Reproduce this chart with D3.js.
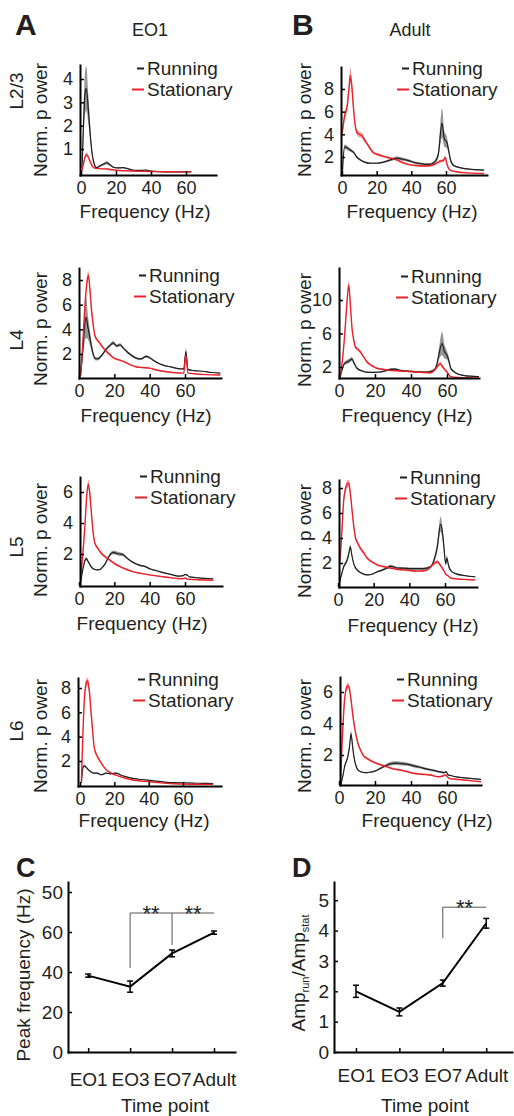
<!DOCTYPE html>
<html>
<head>
<meta charset="utf-8">
<script src="https://cdn.jsdelivr.net/npm/d3@7"></script>
<style>
  body { margin: 0; background: #fff; }
  svg text { font-family: "Liberation Sans", Arial, sans-serif; fill: #231f20; }
</style>
</head>
<body>
<div id="chart"></div>
<script>
// spectra: [frequency (Hz), mean norm. power, sem]
const eo1L23Run = [[0.6,0.2,0.05],[1.4,2.0,0.6],[2.2,3.3,0.9],[3,3.6,0.95],[4.2,2.7,0.6],[5.1,1.8,0.35],[6.1,0.96,0.15],[7.4,0.4,0.06],[8.9,0.2,0.04],[10.8,0.27,0.04],[12.8,0.35,0.05],[14.7,0.41,0.07],[16.5,0.33,0.05],[18.5,0.22,0.03],[21,0.19,0.03],[24,0.2,0.03],[27,0.15,0.02],[30,0.09,0.02],[34,0.08,0.02],[37,0.1,0.02],[40,0.05,0.01],[45,0.03,0.01],[50,0.02,0.01],[55,0.02,0.01],[60,0.02,0.01],[63,0.02,0.01]]
const eo1L23Stat = [[0.5,0.05,0.02],[1.5,0.4,0.06],[2.5,0.7,0.08],[3.2,0.76,0.1],[4,0.68,0.08],[5,0.5,0.06],[6,0.33,0.04],[7,0.22,0.03],[8.5,0.17,0.02],[10,0.16,0.02],[12,0.15,0.02],[15,0.14,0.02],[18,0.11,0.02],[22,0.08,0.01],[28,0.06,0.01],[35,0.04,0.01],[45,0.03,0.01],[55,0.02,0.01],[63,0.02,0.01]]

const adultL23Run = [[0.3,0.8,0.1],[1.5,2.9,0.2],[3,2.8,0.2],[5,2.6,0.15],[6.7,2.4,0.12],[8.5,2.0,0.1],[10.5,1.75,0.08],[13,1.55,0.07],[16.3,1.45,0.07],[20,1.45,0.07],[24,1.55,0.08],[28,1.75,0.1],[31.7,1.9,0.15],[35,1.8,0.15],[38,1.7,0.12],[42,1.5,0.1],[46,1.4,0.1],[50,1.35,0.1],[53,1.5,0.12],[55.5,2.2,0.3],[57.7,5.0,1.3],[59,3.6,0.7],[60.5,3.3,0.5],[61.5,2.6,0.3],[62.5,1.8,0.2],[64,1.3,0.12],[66,1.15,0.08],[70,1.0,0.05],[75,0.9,0.05],[82,0.85,0.05]]
const adultL23Stat = [[0,4.0,0.3],[1.5,5.6,0.4],[3,6.5,0.4],[4,8.0,0.6],[4.8,9.2,0.7],[5.7,8.2,0.6],[6.7,6.2,0.4],[7.6,4.8,0.3],[8.6,4.2,0.25],[10,4.0,0.25],[11.5,3.9,0.25],[13,3.5,0.2],[14.4,3.2,0.15],[16,2.8,0.15],[18,2.4,0.12],[21,2.2,0.1],[24,2.05,0.1],[28,1.9,0.1],[31.7,1.75,0.1],[35,1.5,0.1],[38,1.35,0.08],[43,1.25,0.08],[48,1.2,0.08],[51,1.25,0.08],[54,1.4,0.1],[56,1.6,0.12],[58.5,1.7,0.15],[59.6,1.95,0.15],[60.5,1.4,0.1],[61.5,1.0,0.06],[63,0.8,0.05],[66,0.7,0.04],[72,0.6,0.03],[82,0.55,0.03]]

const eo1L4Run = [[0.8,0.2,0.05],[2,2.0,0.5],[3,4.0,1.2],[4,5.0,1.7],[5,4.2,1.0],[6.2,3.3,0.6],[7.5,2.3,0.3],[9,1.65,0.15],[10.5,1.6,0.12],[12,1.75,0.12],[13.7,2.05,0.12],[15.5,2.4,0.12],[17.5,2.7,0.12],[19.4,2.9,0.15],[21.3,2.65,0.12],[23.2,2.75,0.12],[25,2.5,0.1],[27,2.2,0.1],[30,1.85,0.1],[32.6,1.65,0.08],[35,1.6,0.08],[38,1.8,0.1],[40,1.7,0.08],[42,1.5,0.07],[45,1.25,0.06],[47.6,1.1,0.05],[52,0.95,0.04],[57,0.8,0.04],[59.3,0.8,0.04],[60.5,2.2,0.3],[61.7,0.75,0.04],[65,0.65,0.03],[70,0.6,0.03],[75,0.5,0.03],[80,0.45,0.03]]
const eo1L4Stat = [[0.8,0.2,0.05],[2,2.5,0.2],[3.4,6.0,0.3],[4.5,7.8,0.35],[5.3,8.4,0.35],[6.2,7.2,0.3],[7.2,5.4,0.25],[8.2,4.2,0.2],[9,3.5,0.15],[10.5,3.1,0.12],[11.9,2.85,0.12],[13.7,2.5,0.12],[15.6,2.2,0.12],[17.5,1.95,0.1],[19.4,1.7,0.1],[22,1.55,0.08],[25,1.4,0.07],[28,1.2,0.06],[32.6,0.95,0.05],[36,0.9,0.05],[40,0.85,0.05],[44,0.7,0.04],[47.6,0.6,0.03],[52,0.52,0.03],[58,0.45,0.03],[59.3,0.45,0.03],[60.5,1.9,0.2],[61.7,0.45,0.03],[65,0.4,0.02],[72,0.33,0.02],[80,0.3,0.02]]

const adultL4Run = [[0.5,0.8,0.1],[1.5,1.5,0.15],[3,2.4,0.2],[5.4,2.7,0.25],[7.2,2.95,0.25],[8.5,2.4,0.2],[10,1.85,0.12],[12.5,1.55,0.1],[15.6,1.37,0.08],[19,1.35,0.08],[23,1.4,0.08],[26,1.55,0.1],[28.5,1.72,0.12],[31,1.75,0.12],[34,1.6,0.1],[38,1.5,0.1],[41.6,1.45,0.1],[45,1.4,0.1],[49,1.4,0.1],[52.6,1.6,0.15],[54.5,2.4,0.3],[55.4,3.4,0.6],[57.2,4.8,1.4],[58.7,3.8,0.8],[60,3.4,0.5],[61,2.8,0.4],[62,1.9,0.2],[63.5,1.5,0.12],[65.6,1.2,0.1],[69,1.0,0.06],[73,0.9,0.05],[78,0.85,0.05]]
const adultL4Stat = [[0.7,0.8,0.1],[2,3.0,0.3],[3,5.4,0.4],[4.2,9.0,0.5],[5.4,11.8,0.5],[6.3,9.5,0.4],[7.2,6.7,0.3],[8.2,5.2,0.25],[9.1,4.4,0.2],[10.5,4.1,0.2],[11.9,3.8,0.2],[13.7,3.2,0.15],[15.6,2.6,0.15],[18,2.2,0.12],[21,1.85,0.1],[25,1.7,0.1],[28.5,1.6,0.1],[32,1.55,0.1],[36,1.5,0.1],[40,1.45,0.1],[43.3,1.4,0.1],[47,1.35,0.1],[50.7,1.3,0.1],[53,1.6,0.15],[54.4,2.0,0.2],[56.3,2.4,0.25],[58,1.9,0.2],[60,1.4,0.12],[61,1.1,0.08],[62,0.85,0.05],[66,0.75,0.04],[72,0.7,0.03],[78,0.65,0.03]]

const eo1L5Run = [[0.8,0.1,0.05],[2,0.9,0.1],[3.4,1.6,0.1],[4.2,1.7,0.1],[5,1.55,0.08],[6.2,1.3,0.06],[7.5,1.1,0.05],[9,1.0,0.05],[10.5,0.98,0.05],[11.9,1.0,0.05],[13.3,1.15,0.06],[14.7,1.35,0.07],[16,1.65,0.08],[17.5,1.95,0.1],[19.4,2.1,0.12],[21,2.05,0.12],[23,2.0,0.12],[25,1.95,0.1],[27,1.75,0.08],[30,1.5,0.07],[32.5,1.35,0.06],[35,1.25,0.06],[37.3,1.2,0.05],[40,1.05,0.05],[43,0.95,0.04],[46,0.85,0.04],[49.5,0.75,0.03],[53,0.65,0.03],[57,0.57,0.03],[59,0.6,0.03],[60,0.68,0.04],[61,0.65,0.04],[62.7,0.52,0.03],[66,0.48,0.02],[71,0.43,0.02],[76,0.4,0.02]]
const eo1L5Stat = [[0.8,0.3,0.05],[2,1.8,0.15],[3.4,3.9,0.2],[4.4,5.8,0.25],[5.3,6.5,0.3],[6.2,5.8,0.25],[7.2,4.4,0.2],[8,3.4,0.15],[9,2.7,0.12],[10.5,2.4,0.1],[11.9,2.15,0.1],[14.5,1.85,0.08],[17.5,1.6,0.08],[20,1.4,0.07],[23,1.2,0.06],[27,1.0,0.05],[30.5,0.86,0.04],[35,0.75,0.04],[40,0.65,0.03],[45,0.57,0.03],[50,0.5,0.03],[55,0.43,0.02],[58.5,0.4,0.02],[60,0.45,0.03],[61.5,0.38,0.02],[66,0.35,0.02],[71,0.32,0.02],[76,0.3,0.02]]

const adultL5Run = [[0.8,0.4,0.05],[2,1.1,0.1],[3.2,1.7,0.12],[5,2.2,0.15],[6,2.7,0.2],[6.9,3.3,0.2],[7.8,2.6,0.15],[8.8,1.95,0.1],[10.7,1.45,0.07],[13,1.2,0.06],[16.3,1.05,0.05],[19,1.1,0.05],[22,1.3,0.06],[25,1.45,0.08],[28,1.65,0.1],[29.4,1.75,0.12],[31,1.7,0.1],[33,1.6,0.1],[37,1.58,0.1],[40.6,1.55,0.1],[44,1.55,0.1],[48,1.55,0.1],[51.9,1.7,0.1],[54,2.3,0.2],[55.7,3.3,0.4],[57.5,5.1,0.6],[58.4,4.6,0.5],[59.2,3.6,0.4],[60.4,1.95,0.2],[61,2.4,0.25],[62,1.8,0.15],[63.2,1.4,0.1],[66,1.15,0.06],[70.7,1.0,0.05],[77,0.9,0.05]]
const adultL5Stat = [[0.5,1.8,0.15],[1.3,2.6,0.2],[2.2,4.6,0.3],[3.2,7.0,0.3],[4.3,8.0,0.3],[5.2,8.3,0.3],[6,8.4,0.3],[6.9,7.6,0.3],[7.9,6.2,0.25],[8.8,5.0,0.2],[9.7,4.1,0.2],[11,3.6,0.15],[12.5,3.2,0.15],[14.5,2.8,0.12],[16.3,2.4,0.1],[19,2.1,0.1],[22,1.85,0.08],[26,1.7,0.08],[29.4,1.6,0.08],[33,1.5,0.07],[36.9,1.45,0.07],[40.6,1.4,0.07],[44.4,1.35,0.07],[48,1.38,0.07],[50,1.45,0.08],[52,1.7,0.1],[53.8,1.95,0.12],[55.7,2.1,0.15],[57,1.9,0.12],[58,1.7,0.1],[59.3,1.4,0.08],[60.4,1.1,0.06],[61.5,1.0,0.05],[63.2,0.8,0.04],[67,0.72,0.03],[72,0.68,0.03],[77,0.65,0.03]]

const eo1L6Run = [[0.8,0.2,0.05],[1.8,1.5,0.1],[2.6,1.6,0.1],[3.8,1.45,0.08],[5.1,1.25,0.07],[6.5,1.1,0.06],[8.3,1.0,0.05],[10.2,1.0,0.05],[12.1,0.87,0.04],[13.5,0.9,0.04],[15,1.0,0.05],[17.9,0.95,0.05],[20.8,1.0,0.05],[22.5,0.95,0.05],[23.7,0.85,0.04],[27,0.7,0.03],[31.5,0.55,0.03],[36,0.48,0.02],[41,0.4,0.02],[46,0.32,0.02],[50.9,0.25,0.02],[55,0.22,0.01],[60.5,0.2,0.01],[66,0.18,0.01],[72,0.16,0.01],[77.6,0.15,0.01]]
const eo1L6Stat = [[0.8,0.3,0.05],[1.5,3.4,0.2],[2.5,7.0,0.3],[3.5,8.3,0.35],[4.4,8.6,0.35],[5.4,7.8,0.3],[6.4,6.1,0.25],[7.4,4.4,0.2],[8.3,3.1,0.15],[10,2.4,0.1],[12.1,1.9,0.08],[14,1.5,0.07],[16,1.2,0.06],[19,0.95,0.05],[21.8,0.8,0.04],[26,0.6,0.03],[31.5,0.42,0.02],[36,0.35,0.02],[41,0.3,0.02],[46,0.22,0.02],[50.9,0.16,0.01],[55,0.13,0.01],[60.5,0.1,0.01],[66,0.09,0.01],[72,0.08,0.01],[77.6,0.08,0.01]]

const adultL6Run = [[1,0.1,0.05],[2.2,0.7,0.08],[3.1,1.26,0.1],[4.9,1.9,0.12],[5.8,2.5,0.15],[6.7,3.35,0.2],[7.6,2.5,0.15],[8.6,1.7,0.1],[9.5,1.3,0.07],[10.5,1.05,0.05],[12.5,0.92,0.04],[15.2,0.88,0.04],[18,0.92,0.05],[20.8,1.02,0.05],[23.5,1.18,0.07],[26.4,1.35,0.1],[29,1.45,0.12],[32,1.48,0.12],[35,1.45,0.12],[37.6,1.42,0.1],[41,1.33,0.1],[45,1.22,0.08],[49,1.1,0.07],[52.6,1.02,0.06],[56,0.93,0.05],[58.5,0.88,0.05],[59.5,0.95,0.05],[60.5,0.75,0.04],[62,0.7,0.03],[65.8,0.6,0.03],[70,0.55,0.03],[74,0.5,0.02],[79,0.45,0.02]]
const adultL6Stat = [[0.8,0.3,0.05],[1.7,2.7,0.15],[3.1,5.5,0.2],[4,6.2,0.2],[4.9,6.4,0.2],[5.8,6.2,0.2],[6.7,5.5,0.2],[7.6,4.6,0.18],[8.6,3.8,0.15],[10.5,2.75,0.12],[12,2.3,0.1],[13.3,2.0,0.1],[16,1.75,0.08],[18.9,1.57,0.07],[22.5,1.4,0.07],[26.4,1.26,0.06],[30,1.12,0.05],[33.9,1.05,0.05],[37.6,0.95,0.05],[41.4,0.84,0.04],[46,0.78,0.04],[50.7,0.73,0.04],[55.4,0.62,0.03],[58,0.68,0.04],[59.2,0.73,0.04],[61.1,0.52,0.03],[65,0.46,0.02],[69.5,0.41,0.02],[74,0.36,0.02],[79.2,0.3,0.02]]

// tick values
const freqTicks = [0, 20, 40, 60]
const ticksEo1L23 = [1, 2, 3, 4]
const ticksAdultL23 = [2, 4, 6, 8]
const ticksEo1L4 = [2, 4, 6, 8]
const ticksAdultL4 = [2, 6, 10]
const ticksEo1L5 = [2, 4, 6]
const ticksAdultL5 = [2, 4, 6, 8]
const ticksEo1L6 = [2, 4, 6, 8]
const ticksAdultL6 = [2, 4, 6]

// summary panels C and D
const timePoints = ["EO1", "EO3", "EO7", "Adult"]
const peakFreq = [38.2, 32.7, 49.3, 59.7]
const peakFreqErr = [0.8, 2.8, 1.7, 0.8]
const peakTicks = [0, 20, 40, 60, 80]
const peakTickLabels = ["0", "20", "40", "60", "50"]
const ampRatio = [2.0, 1.32, 2.27, 4.24]
const ampRatioErr = [0.2, 0.13, 0.1, 0.16]
const ratioTicks = [0, 1, 2, 3, 4, 5]

const RED = "#ea2129", RED_BAND = "#f08a8a", BLACK = "#1e1e1e", GREY_BAND = "#7d7d7d"

var svg = d3.select("#chart").append("svg")
    .attr("width", 514)
    .attr("height", 1116)

svg.append("rect").attr("width", 514).attr("height", 1116).attr("fill", "#fff")

// panel frames (pixel layout), one per spectrum
var panels = [
    {id: "a1", run: eo1L23Run, stat: eo1L23Stat, ticks: ticksEo1L23, axisX: 80, axisEnd: 216, top: 65, axisY: 175, x0: 81, x60: 186, yRef: [1, 4], yPx: [149, 79], legX: 147, legY: 75, labX: 47, labY: 120, freqX: 145, freqY: 218},
    {id: "b1", run: adultL23Run, stat: adultL23Stat, ticks: ticksAdultL23, axisX: 341, axisEnd: 487, top: 67, axisY: 175, x0: 342, x60: 446, yRef: [2, 8], yPx: [157, 89], legX: 412, legY: 75, labX: 311, labY: 120, freqX: 412, freqY: 218},
    {id: "a2", run: eo1L4Run, stat: eo1L4Stat, ticks: ticksEo1L4, axisX: 79, axisEnd: 221, top: 268, axisY: 378, x0: 79, x60: 185, yRef: [2, 8], yPx: [354, 280], legX: 149, legY: 282, labX: 47, labY: 329, freqX: 146, freqY: 422},
    {id: "b2", run: adultL4Run, stat: adultL4Stat, ticks: ticksAdultL4, axisX: 339, axisEnd: 479, top: 268, axisY: 378, x0: 339, x60: 447, yRef: [2, 10], yPx: [367, 300], legX: 411, legY: 283, labX: 311, labY: 330, freqX: 407, freqY: 422},
    {id: "a3", run: eo1L5Run, stat: eo1L5Stat, ticks: ticksEo1L5, axisX: 80, axisEnd: 222, top: 477, axisY: 586, x0: 79, x60: 185, yRef: [2, 6], yPx: [554, 492], legX: 150, legY: 483, labX: 47, labY: 540, freqX: 142, freqY: 630},
    {id: "b3", run: adultL5Run, stat: adultL5Stat, ticks: ticksAdultL5, axisX: 339, axisEnd: 477, top: 480, axisY: 587, x0: 338, x60: 445, yRef: [2, 8], yPx: [563, 488], legX: 410, legY: 484, labX: 311, labY: 541, freqX: 413, freqY: 632},
    {id: "a4", run: eo1L6Run, stat: eo1L6Stat, ticks: ticksEo1L6, axisX: 78, axisEnd: 221, top: 678, axisY: 786, x0: 80, x60: 183, yRef: [2, 8], yPx: [761, 688], legX: 148, legY: 686, labX: 47, labY: 736, freqX: 144, freqY: 827},
    {id: "b4", run: adultL6Run, stat: adultL6Stat, ticks: ticksAdultL6, axisX: 340, axisEnd: 481, top: 677, axisY: 785, x0: 339, x60: 447, yRef: [2, 6], yPx: [755, 692], legX: 407, legY: 686, labX: 311, labY: 736, freqX: 427, freqY: 827}
]

function styleAxis(g, size) {
    g.attr("font-size", null).attr("font-family", null)
    g.select(".domain").attr("stroke", "#000").attr("stroke-width", 2).attr("stroke-linecap", "square")
    g.selectAll(".tick line").attr("stroke", "#000").attr("stroke-width", 1.5)
    g.selectAll(".tick text").attr("font-size", size).attr("fill", "#231f20")
}

panels.forEach(p => spectrum(p))

function spectrum(p) {
    var xScale = d3.scaleLinear().domain([0, 60]).range([p.x0, p.x60])
    xScale.domain([xScale.invert(p.axisX), xScale.invert(p.axisEnd)]).range([p.axisX, p.axisEnd])

    var yScale = d3.scaleLinear().domain(p.yRef).range(p.yPx)
    yScale.domain([yScale.invert(p.axisY), yScale.invert(p.top)]).range([p.axisY, p.top])

    svg.append("clipPath").attr("id", "clip-" + p.id)
        .append("rect")
        .attr("x", p.axisX).attr("y", p.top)
        .attr("width", p.axisEnd - p.axisX).attr("height", p.axisY - p.top)

    const band = d3.area()
        .x(d => xScale(d[0]))
        .y0(d => yScale(d[1] - d[2]))
        .y1(d => yScale(d[1] + d[2]))
        .curve(d3.curveMonotoneX)

    const line = d3.line()
        .x(d => xScale(d[0]))
        .y(d => yScale(d[1]))
        .curve(d3.curveMonotoneX)

    var plot = svg.append("g").attr("clip-path", "url(#clip-" + p.id + ")")

    plot.append("path").attr("d", band(p.stat)).attr("fill", RED_BAND).attr("opacity", 0.8)
    plot.append("path").attr("d", band(p.run)).attr("fill", GREY_BAND).attr("opacity", 0.8)
    plot.append("path").attr("d", line(p.run)).attr("fill", "none").attr("stroke", BLACK).attr("stroke-width", 1.2)
    plot.append("path").attr("d", line(p.stat)).attr("fill", "none").attr("stroke", RED).attr("stroke-width", 1.4)

    svg.append("g")
        .attr("transform", "translate(0," + p.axisY + ")")
        .call(d3.axisBottom(xScale).tickValues(freqTicks).tickFormat(d3.format("d"))
            .tickSizeInner(-4).tickSizeOuter(0).tickPadding(6))
        .call(styleAxis, 18)

    svg.append("g")
        .attr("transform", "translate(" + p.axisX + ",0)")
        .call(d3.axisLeft(yScale).tickValues(p.ticks).tickFormat(d3.format("d"))
            .tickSizeInner(-4).tickSizeOuter(0).tickPadding(7))
        .call(styleAxis, 18)

    // legend
    svg.append("line").attr("x1", p.legX - 10).attr("x2", p.legX - 3)
        .attr("y1", p.legY - 6.5).attr("y2", p.legY - 6.5)
        .attr("stroke", BLACK).attr("stroke-width", 2)
    svg.append("line").attr("x1", p.legX - 15).attr("x2", p.legX - 3)
        .attr("y1", p.legY + 21 - 6.5).attr("y2", p.legY + 21 - 6.5)
        .attr("stroke", RED).attr("stroke-width", 2)
    svg.append("text").attr("x", p.legX).attr("y", p.legY).attr("font-size", 19).text("Running")
    svg.append("text").attr("x", p.legX).attr("y", p.legY + 21).attr("font-size", 19).text("Stationary")

    svg.append("text")
        .attr("transform", "translate(" + p.labX + "," + p.labY + ") rotate(-90)")
        .attr("text-anchor", "middle").attr("font-size", 19)
        .text("Norm. p ower")

    svg.append("text")
        .attr("x", p.freqX).attr("y", p.freqY)
        .attr("text-anchor", "middle").attr("font-size", 19)
        .text("Frequency (Hz)")
}

// layer labels and titles
const layers = [["L2/3", 91], ["L4", 340], ["L5", 547], ["L6", 731]]
layers.forEach(l => {
    svg.append("text")
        .attr("transform", "translate(23," + l[1] + ") rotate(-90)")
        .attr("text-anchor", "middle").attr("font-size", 19)
        .text(l[0])
})

svg.append("text").attr("x", 150).attr("y", 36).attr("text-anchor", "middle").attr("font-size", 18).text("EO1")
svg.append("text").attr("x", 410).attr("y", 36).attr("text-anchor", "middle").attr("font-size", 18).text("Adult")

const letters = [["A", 15, 35, 30], ["B", 292, 35, 30], ["C", 16, 877, 27], ["D", 292, 877, 27]]
letters.forEach(l => {
    svg.append("text").attr("x", l[1]).attr("y", l[2])
        .attr("font-size", l[3]).attr("font-weight", "bold").text(l[0])
})

// summary line plot with error bars
function summary(cfg) {
    var xScale = d3.scalePoint().domain(timePoints).range([cfg.axisX, cfg.axisEnd]).padding(cfg.pad).align(cfg.align)
    var yScale = d3.scaleLinear().domain(cfg.yDomain).range([cfg.axisY, cfg.top])

    const line = d3.line()
        .x((d, i) => xScale(timePoints[i]))
        .y(d => yScale(d))

    svg.append("path").attr("d", line(cfg.values))
        .attr("fill", "none").attr("stroke", "#000").attr("stroke-width", 2)

    cfg.values.forEach((v, i) => {
        const cx = xScale(timePoints[i])
        const lo = yScale(v - cfg.errors[i]), hi = yScale(v + cfg.errors[i])
        svg.append("line").attr("x1", cx).attr("x2", cx).attr("y1", lo).attr("y2", hi)
            .attr("stroke", "#000").attr("stroke-width", 1.5)
        ;[lo, hi].forEach(yy => svg.append("line")
            .attr("x1", cx - 3).attr("x2", cx + 3).attr("y1", yy).attr("y2", yy)
            .attr("stroke", "#000").attr("stroke-width", 1.5))
    })

    // significance bracket
    const b = cfg.bracket
    svg.append("line")
        .attr("x1", xScale(b.from)).attr("x2", xScale(b.to))
        .attr("y1", yScale(b.level)).attr("y2", yScale(b.level))
        .attr("stroke", "#555").attr("stroke-width", 1)
    b.drops.forEach(d => svg.append("line")
        .attr("x1", xScale(d[0])).attr("x2", xScale(d[0]))
        .attr("y1", yScale(b.level)).attr("y2", yScale(d[1]))
        .attr("stroke", "#555").attr("stroke-width", 1))
    b.stars.forEach(s => svg.append("text")
        .attr("x", (xScale(s[0]) + xScale(s[1])) / 2)
        .attr("y", yScale(b.level) + 8)
        .attr("text-anchor", "middle").attr("font-size", 22)
        .text("**"))

    svg.append("g")
        .attr("transform", "translate(0," + cfg.axisY + ")")
        .call(d3.axisBottom(xScale).tickSizeInner(-4).tickSizeOuter(0).tickPadding(cfg.xPad))
        .call(styleAxis, 19)

    svg.append("g")
        .attr("transform", "translate(" + cfg.axisX + ",0)")
        .call(d3.axisLeft(yScale).tickValues(cfg.ticks).tickFormat((d, i) => cfg.tickLabels[i])
            .tickSizeInner(-4).tickSizeOuter(0).tickPadding(5))
        .call(styleAxis, 19)

    svg.append("text").attr("x", cfg.timeX).attr("y", 1112)
        .attr("text-anchor", "middle").attr("font-size", 19).text("Time point")
}

summary({
    values: peakFreq, errors: peakFreqErr, ticks: peakTicks, tickLabels: peakTickLabels,
    yDomain: [0, 85], axisX: 68, axisEnd: 235, top: 882, axisY: 1052, pad: 0.49, align: 0.49, xPad: 21,
    timeX: 165,
    bracket: {from: "EO3", to: "Adult", level: 69.5, drops: [["EO3", 42], ["EO7", 53.5]], stars: [["EO3", "EO7"], ["EO7", "Adult"]]}
})

summary({
    values: ampRatio, errors: ampRatioErr, ticks: ratioTicks, tickLabels: ratioTicks.map(String),
    yDomain: [0, 5.6], axisX: 334, axisEnd: 512, top: 882, axisY: 1052, pad: 0.55, align: 0.46, xPad: 17,
    timeX: 425,
    bracket: {from: "EO7", to: "Adult", level: 4.77, drops: [["EO7", 3.75]], stars: [["EO7", "Adult"]]}
})

svg.append("text")
    .attr("transform", "translate(30,975) rotate(-90)")
    .attr("text-anchor", "middle").attr("font-size", 19)
    .text("Peak frequency (Hz)")

var ampLabel = svg.append("text")
    .attr("transform", "translate(305,973) rotate(-90)")
    .attr("text-anchor", "middle").attr("font-size", 19)
ampLabel.append("tspan").text("Amp")
ampLabel.append("tspan").attr("font-size", 11).attr("dy", 4).text("run")
ampLabel.append("tspan").attr("dy", -4).text("/Amp")
ampLabel.append("tspan").attr("font-size", 11).attr("dy", 4).text("stat")
</script>
</body>
</html>
